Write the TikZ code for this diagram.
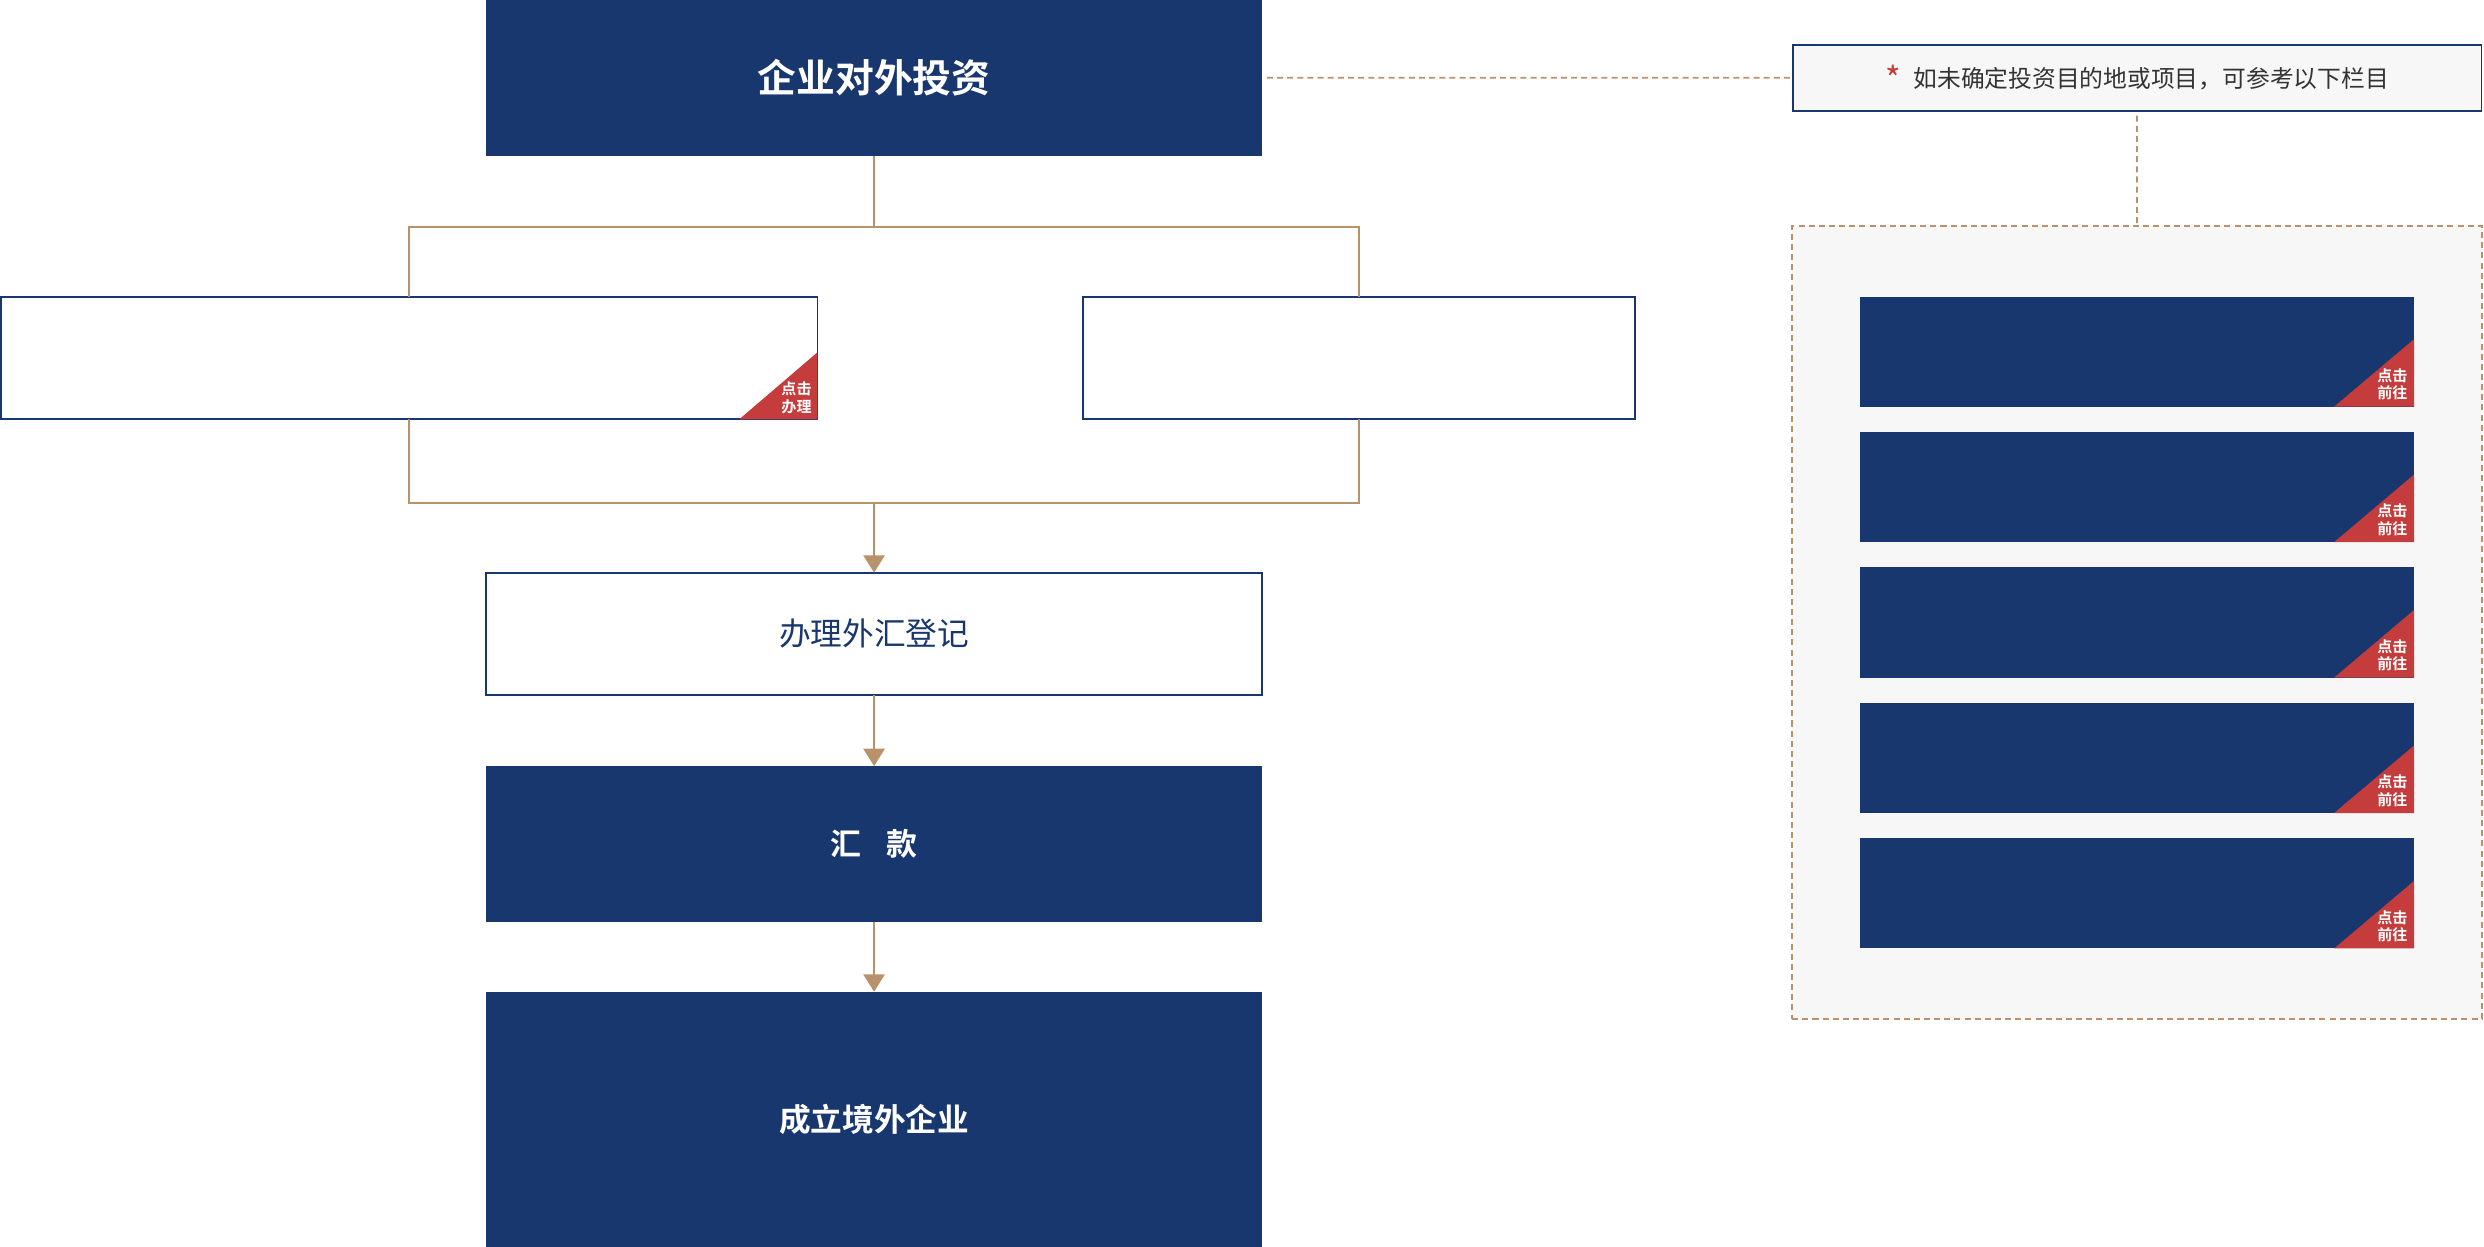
\documentclass[tikz,border=0pt]{standalone}
\usepackage{fontspec}
\usetikzlibrary{arrows.meta}
\newfontfamily\cjk{Noto Sans CJK SC}
\newfontfamily\song{Noto Sans CJK SC Bold}
\definecolor{navy}{HTML}{18376F}
\definecolor{tan}{HTML}{B8926A}
\definecolor{badgered}{HTML}{C43C3C}
\definecolor{panelgray}{HTML}{F7F7F7}
\definecolor{textgray}{HTML}{333333}
\begin{document}
\begin{tikzpicture}[x=1pt,y=-1pt,
  navybox/.style={fill=navy, draw=none, inner sep=0pt, outer sep=0pt, anchor=north west, text=white},
  whitebox/.style={fill=white, draw=navy, line width=1.1pt, inner sep=0pt, outer sep=0pt, anchor=north west},
  conn/.style={draw=tan, line width=1.15pt},
  arr/.style={conn, -{Triangle[width=13.5pt,length=11pt]}},
  dashline/.style={draw=tan, line width=1.1pt, dash pattern=on 3.8pt off 2.6pt},
  badgetext/.style={text=white, font=\song\fontsize{9.5}{11}\selectfont, align=right, anchor=south east, inner sep=0pt},
]
\useasboundingbox (0,0) rectangle (1568,787);

% right panel
\node[fill=panelgray, dashline, minimum width=435.3pt, minimum height=500.4pt, inner sep=0pt, outer sep=0pt, anchor=north west] (panel) at (1131.3,142.6) {};
\node[fill=panelgray, draw=navy, line width=1.1pt, minimum width=434.8pt, minimum height=41.8pt, inner sep=0pt, outer sep=0pt, anchor=north west, font=\cjk\fontsize{15}{18}\selectfont, text=textgray] (note) at (1131.6,28.2)
  {\raisebox{-2.5pt}{\textcolor{badgered}{\fontsize{21}{21}\selectfont *}}\hspace{8pt}如未确定投资目的地或项目，可参考以下栏目};

\foreach \i in {0,...,4} {
  \pgfmathsetmacro\yy{187.2+85.5*\i}
  \node[navybox, minimum width=349.7pt, minimum height=69.5pt] (g\i) at (1174.2,\yy) {};
  \fill[badgered] (g\i.south east) -- ++(-50.5,0) -- ++(50.5,-42.7) -- cycle;
  \node[badgetext] (gt\i) at ([xshift=-4pt,yshift=4pt]g\i.south east) {点击\\前往};
}

% left column
\node[navybox, minimum width=489.9pt, minimum height=98.3pt] (top) at (306.8,0) {\song\fontsize{24.5}{28}\selectfont 企业对外投资};
\node[whitebox, minimum width=515.4pt, minimum height=77.3pt] (lb) at (0.6,187.4) {};
\fill[badgered] (lb.south east) -- ++(-49.4,0) -- ++(49.4,-42.3) -- cycle;
\node[badgetext] (lbt) at ([xshift=-3.5pt,yshift=3.5pt]lb.south east) {点击\\办理};
\node[whitebox, minimum width=348.5pt, minimum height=77pt] (rb) at (683.7,187.5) {};

\node[whitebox, minimum width=489.9pt, minimum height=77.3pt, font=\cjk\fontsize{20}{24}\selectfont, text=navy] (reg) at (306.8,361.5) {办理外汇登记};
\node[navybox, minimum width=489.9pt, minimum height=98.3pt] (remit) at (306.8,483.6) {\song\fontsize{19.5}{24}\selectfont 汇\hspace{16pt}款};
\node[navybox, minimum width=489.9pt, minimum height=161pt] (found) at (306.8,626) {\song\fontsize{20}{24}\selectfont 成立境外企业};

% connectors
\coordinate (jt) at (551.75,143.1);
\coordinate (jb) at (551.75,317.3);
\draw[conn] (top.south) -- (jt);
\draw[conn] (lb.north) -- (lb.north |- jt) -- (rb.north |- jt) -- (rb.north);
\draw[conn] (lb.south) -- (lb.south |- jb) -- (rb.south |- jb) -- (rb.south);
\draw[arr] (jb) -- (reg.north);
\draw[arr] (reg.south) -- (remit.north);
\draw[arr] (remit.south) -- (found.north);

\draw[dashline] ([xshift=3pt]top.east) -- (note.west);
\draw[dashline] ([yshift=-3pt]note.south) -- (panel.north);
\end{tikzpicture}
\end{document}
